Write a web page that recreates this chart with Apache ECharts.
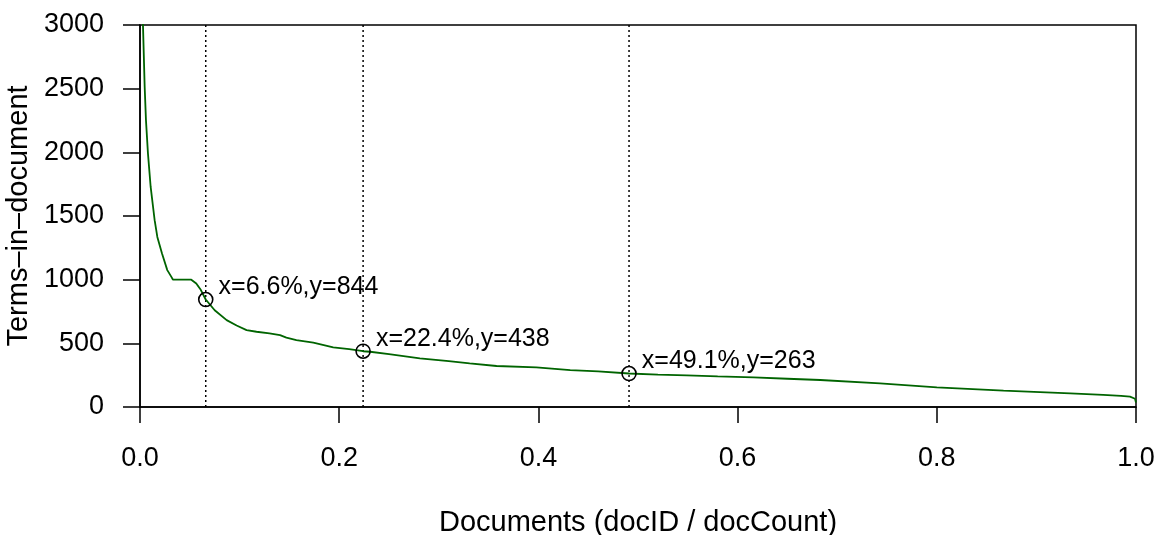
<!DOCTYPE html>
<html>
<head>
<meta charset="utf-8">
<script src="https://cdn.jsdelivr.net/npm/echarts@6/dist/echarts.min.js"></script>
<style>
  html, body { margin: 0; padding: 0; background: #fff; }
  #chart { width: 1158px; height: 535px; }
</style>
</head>
<body>
<div id="chart"></div>
<script>
// Terms-in-document curve, documents ordered by docID / docCount
const docFraction = [0, 0.001, 0.002, 0.003, 0.0047, 0.006, 0.008, 0.0107, 0.0147, 0.0174,
  0.0221, 0.0274, 0.0315, 0.033, 0.04, 0.0515, 0.0565, 0.061, 0.066, 0.075, 0.087,
  0.097, 0.107, 0.117, 0.13, 0.1406, 0.147, 0.157, 0.174, 0.194, 0.21, 0.224, 0.231,
  0.25, 0.281, 0.31, 0.331, 0.358, 0.398, 0.432, 0.46, 0.491, 0.52, 0.549, 0.58,
  0.616, 0.65, 0.683, 0.743, 0.80, 0.867, 0.934, 0.967, 0.985, 0.994, 0.999, 1.0];
const termsInDoc = [6000, 4800, 3600, 2996, 2512, 2251, 1990, 1728, 1467, 1336,
  1205, 1075, 1022, 1001, 1000, 1000, 970, 920, 844, 760, 682,
  640, 604, 591, 578, 565, 545, 525, 505, 468, 455, 438, 434,
  415, 382, 360, 343, 322, 311, 290, 280, 263, 255, 248, 240,
  232, 222, 212, 186, 154, 128, 107, 96, 88, 81, 65, 35];

// Marked positions along the curve
const markX = [0.066, 0.224, 0.491];
const markY = [844, 438, 263];

// Axis ticks
const xTicks = [0.0, 0.2, 0.4, 0.6, 0.8, 1.0];
const yTicks = [0, 500, 1000, 1500, 2000, 2500, 3000];

const FONT = '"Liberation Sans", Arial, Helvetica, sans-serif';
const TICK_FS = 27;
const NAME_FS = 29;
const NOTE_FS = 25;

const curve = docFraction.map((x, i) => [x, termsInDoc[i]]);
const marks = markX.map((x, i) => [x, markY[i]]);

// dotted verticals through each marked point
const guideSeries = markX.map(x => ({
  type: 'line',
  data: [[x, yTicks[0]], [x, yTicks[yTicks.length - 1]]],
  symbol: 'none',
  silent: true,
  lineStyle: { color: '#000', width: 1.5, type: [2, 3] },
  z: 1
}));

const chart = echarts.init(document.getElementById('chart'), null, { renderer: 'canvas' });
chart.setOption({
  animation: false,
  backgroundColor: '#fff',
  textStyle: { fontFamily: FONT },
  grid: {
    left: 140, right: 22, top: 25, bottom: 128,
    containLabel: false,
    outerBoundsMode: 'none',
    show: true, borderColor: '#000', borderWidth: 1.5, backgroundColor: 'transparent'
  },
  xAxis: {
    type: 'value',
    min: xTicks[0], max: xTicks[xTicks.length - 1], interval: 0.2,
    name: 'Documents (docID / docCount)',
    nameLocation: 'middle', nameGap: 101,
    nameTextStyle: { color: '#000', fontSize: NAME_FS, fontFamily: FONT },
    axisLine: { show: true, lineStyle: { color: '#000', width: 1.5 } },
    axisTick: { show: true, inside: false, length: 16, lineStyle: { color: '#000', width: 1.5 } },
    axisLabel: { color: '#000', fontSize: TICK_FS, fontFamily: FONT, margin: 38,
      formatter: v => v.toFixed(1) },
    splitLine: { show: false }
  },
  yAxis: {
    type: 'value',
    min: yTicks[0], max: yTicks[yTicks.length - 1], interval: 500,
    name: 'Terms\u2013in\u2013document',
    nameLocation: 'middle', nameGap: 102, nameRotate: 90,
    nameTextStyle: { color: '#000', fontSize: NAME_FS, fontFamily: FONT },
    axisLine: { show: true, lineStyle: { color: '#000', width: 1.5 } },
    axisTick: { show: true, inside: false, length: 17, lineStyle: { color: '#000', width: 1.5 } },
    axisLabel: { color: '#000', fontSize: TICK_FS, fontFamily: FONT, margin: 36,
      formatter: v => String(v) },
    splitLine: { show: false }
  },
  series: [
    ...guideSeries,
    {
      type: 'line',
      data: curve,
      symbol: 'none',
      clip: true,
      smooth: false,
      lineStyle: { color: '#006400', width: 1.8 },
      z: 2
    },
    {
      type: 'scatter',
      data: marks,
      symbol: 'circle',
      symbolSize: 14,
      itemStyle: { color: 'transparent', borderColor: '#000', borderWidth: 1.6, opacity: 1 },
      label: {
        show: true,
        position: 'right',
        distance: 5,
        offset: [0, -12],
        color: '#000',
        opacity: 1,
        textBorderWidth: 0,
        fontSize: NOTE_FS,
        fontFamily: FONT,
        formatter: p => 'x=' + (p.value[0] * 100).toFixed(1) + '%,y=' + p.value[1]
      },
      emphasis: { disabled: true },
      z: 3
    }
  ]
});
</script>
</body>
</html>
